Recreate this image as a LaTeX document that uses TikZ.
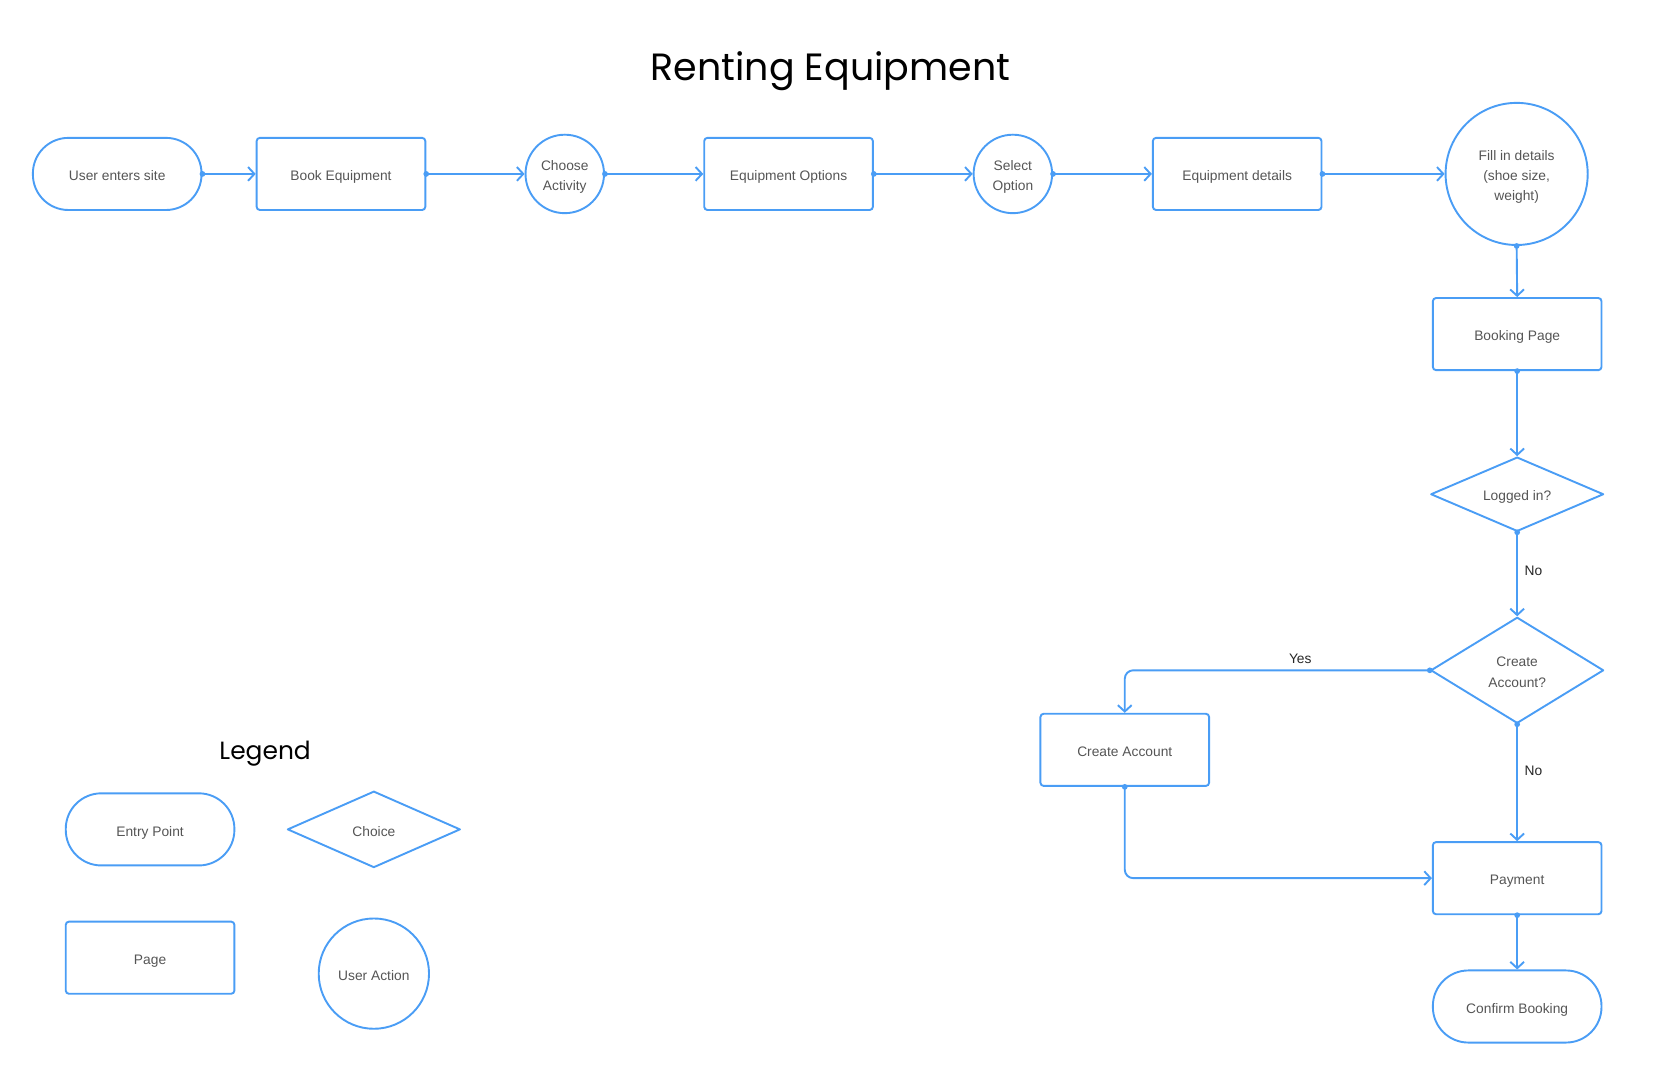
\documentclass[tikz,border=0pt]{standalone}
\usepackage{fontspec}
\setmainfont{Liberation Sans}
\newfontfamily\titlefont{Poppins}
\usetikzlibrary{shapes.geometric,arrows.meta}
\definecolor{flowblue}{RGB}{74,157,245}
\definecolor{txtgray}{RGB}{85,85,85}
\tikzset{
  base/.style={draw=flowblue, line width=1.8pt, text=txtgray, font=\fontsize{13}{19}\selectfont, inner sep=0pt},
  pagebox/.style={base, rectangle, rounded corners=3pt, minimum width=159pt, minimum height=68pt},
  pill/.style={base, rectangle, rounded corners=33.5pt, minimum width=159pt, minimum height=68pt},
  actcircle/.style={base, circle, minimum size=#1},
  choice/.style={base, diamond, aspect=2.3, minimum width=163pt, minimum height=#1, line join=round},
  flow/.style={draw=flowblue, line width=1.8pt, -{Straight Barb[length=6pt,width=13pt]}},
  lbl/.style={font=\fontsize{13}{16}\selectfont, text=black!85}
}
\newcommand{\startdot}[1]{\fill[flowblue] (#1) circle (2.7pt);}
\newcommand{\txt}[1]{\raisebox{-2.5pt}[\height][\depth]{\begin{tabular}{@{}c@{}}#1\end{tabular}}}
\begin{document}
\begin{tikzpicture}[x=1pt,y=-1pt]
\useasboundingbox (0,0) rectangle (1568,1013.6);
\node (title) at (783,67) {\titlefont\fontsize{35.8}{42}\selectfont Renting Equipment};

\node[pill] (enter) at (110.5,164) {\txt{User enters site}};
\node[pagebox] (book) at (321.5,164) {\txt{Book Equipment}};
\node[actcircle=74pt] (act) at (532.5,164) {\txt{Choose\\Activity}};
\node[pagebox] (opts) at (743.5,164) {\txt{Equipment Options}};
\node[actcircle=74pt] (sel) at (955,164) {\txt{Select\\Option}};
\node[pagebox] (det) at (1166.5,164) {\txt{Equipment details}};
\node[actcircle=134pt] (fill) at (1430,164) {\txt{Fill in details\\(shoe size,\\weight)}};
\node[pagebox] (bp) at (1430.5,315) {\txt{Booking Page}};
\node[choice=70pt] (log) at (1430.5,466) {\txt{Logged in?}};
\node[choice=100pt] (ca) at (1430.5,632) {\txt{Create\\Account?}};
\node[pagebox] (cacc) at (1060.5,707) {\txt{Create Account}};
\node[pagebox] (pay) at (1430.5,828) {\txt{Payment}};
\node[pill] (conf) at (1430.5,949) {\txt{Confirm Booking}};

\draw[flow] (enter.east) -- (book.west);
\draw[flow] (book.east) -- (act.west);
\draw[flow] (act.east) -- (opts.west);
\draw[flow] (opts.east) -- (sel.west);
\draw[flow] (sel.east) -- (det.west);
\draw[flow] (det.east) -- (fill.west);
\draw[flow] (fill.south) -- (bp.north);
\draw[flow] (bp.south) -- (log.north);
\draw[flow] (log.south) -- (ca.north);
\draw[flow] (ca.south) -- (pay.north);
\draw[flow, rounded corners=8pt] (ca.west) -| (cacc.north);
\draw[flow, rounded corners=8pt] (cacc.south) |- (pay.west);
\draw[flow] (pay.south) -- (conf.north);
\startdot{enter.east}\startdot{book.east}\startdot{act.east}\startdot{opts.east}
\startdot{sel.east}\startdot{det.east}\startdot{fill.south}\startdot{bp.south}
\startdot{log.south}\startdot{ca.south}\startdot{ca.west}\startdot{cacc.south}
\startdot{pay.south}

\node[lbl, anchor=west] (no1) at (1434,538) {No};
\node[lbl, anchor=west] (no2) at (1434,727) {No};
\node[lbl] (yes) at (1226,621) {Yes};

\node (legend) at (250,711) {\titlefont\fontsize{23.5}{28}\selectfont Legend};
\node[pill] (lentry) at (141.5,782) {\txt{Entry Point}};
\node[choice=72pt] (lchoice) at (352.5,782) {\txt{Choice}};
\node[pagebox] (lpage) at (141.5,903) {\txt{Page}};
\node[actcircle=104pt] (lact) at (352.5,918) {\txt{User Action}};
\end{tikzpicture}
\end{document}
